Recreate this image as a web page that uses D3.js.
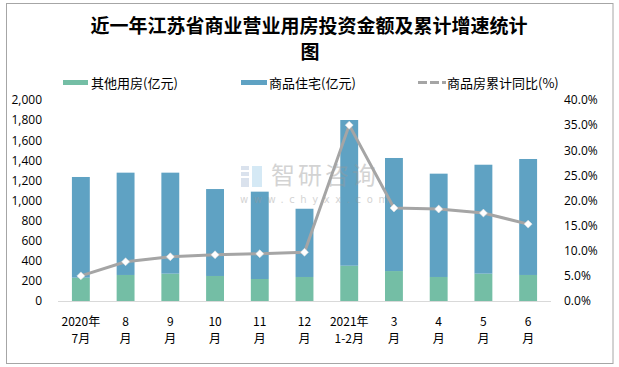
<!DOCTYPE html>
<html><head><meta charset="utf-8">
<script src="https://cdn.jsdelivr.net/npm/d3@7"></script>
<style>body{margin:0;background:#fff}svg{display:block}</style>
</head><body><svg id="c" width="619" height="367"></svg>
<script>
const categories = ["2020年|7月","8|月","9|月","10|月","11|月","12|月","2021年|1-2月","3|月","4|月","5|月","6|月"];
const otherUse = [232,259,272,249,219,239,351,298,239,272,259];
const residential = [1002,1018,1005,865,869,679,1450,1125,1028,1084,1154];
const growthPct = [5.0,7.8,8.8,9.2,9.4,9.7,35.0,18.5,18.3,17.5,15.3];
const leftTicks = [0,200,400,600,800,1000,1200,1400,1600,1800,2000];
const rightTicks = [0,5,10,15,20,25,30,35,40];

const svg = d3.select("#c");
const font = "'Noto Sans CJK SC','Microsoft YaHei',sans-serif";
const green = "#74bea5", blue = "#5fa2c3", gray = "#a5a5a5";

svg.append("rect").attr("x",6.5).attr("y",3.5).attr("width",606.5).attr("height",360).attr("fill","#fff").attr("stroke","#a6a6a6");

svg.append("text").attr("x",309).attr("y",33).attr("text-anchor","middle").attr("font-family",font).attr("font-weight","bold").attr("font-size",19).attr("fill","#000").text("近一年江苏省商业营业用房投资金额及累计增速统计");
svg.append("text").attr("x",310).attr("y",59).attr("text-anchor","middle").attr("font-family",font).attr("font-weight","bold").attr("font-size",19).attr("fill","#000").text("图");

const x = d3.scaleBand().domain(categories).range([58.5,550.5]).paddingInner(0.6).paddingOuter(0.3);
const yL = d3.scaleLinear().domain([0,2000]).range([301,100]);
const yR = d3.scaleLinear().domain([0,40]).range([301,100]);

// left axis
const la = svg.append("g").attr("transform","translate(46,0)").call(d3.axisLeft(yL).tickValues(leftTicks).tickSize(0).tickPadding(4).tickFormat(d3.format(",")));
la.select(".domain").remove();
la.selectAll("text").attr("font-family","'Open Sans','Liberation Sans',sans-serif").attr("font-size",12).attr("fill","#000");
// right axis
const ra = svg.append("g").attr("transform","translate(560,0)").call(d3.axisRight(yR).tickValues(rightTicks).tickSize(0).tickPadding(4).tickFormat(d=>d.toFixed(1)+"%"));
ra.select(".domain").remove();
ra.selectAll("text").attr("font-family","'Open Sans','Liberation Sans',sans-serif").attr("font-size",12).attr("fill","#000");

// bars
const g = svg.append("g");
g.selectAll(".o").data(categories).join("rect").attr("x",d=>x(d)).attr("width",x.bandwidth())
 .attr("y",(d,i)=>yL(otherUse[i])).attr("height",(d,i)=>yL(0)-yL(otherUse[i])).attr("fill",green);
g.selectAll(".r").data(categories).join("rect").attr("x",d=>x(d)).attr("width",x.bandwidth())
 .attr("y",(d,i)=>yL(otherUse[i]+residential[i])).attr("height",(d,i)=>yL(otherUse[i])-yL(otherUse[i]+residential[i])).attr("fill",blue);

// baseline
svg.append("line").attr("x1",58).attr("x2",551).attr("y1",301.5).attr("y2",301.5).attr("stroke","#d9d9d9");

// x labels
const xa = svg.append("g").attr("transform","translate(0,301)").call(d3.axisBottom(x).tickSize(0).tickFormat(""));
xa.select(".domain").remove();
xa.selectAll(".tick").each(function(d){
  const parts = d.split("|");
  const t = d3.select(this).append("text").attr("text-anchor","middle").attr("font-family",font).attr("font-size",12).attr("fill","#000");
  t.append("tspan").attr("x",0).attr("y",25).text(parts[0]);
  t.append("tspan").attr("x",0).attr("y",42).text(parts[1]);
});

// watermark
const wm = svg.append("g").attr("opacity",0.42);
wm.append("rect").attr("x",241).attr("y",166).attr("width",8).attr("height",4).attr("fill","#a9bcd6");
wm.append("rect").attr("x",241).attr("y",172).attr("width",8).attr("height",4).attr("fill","#a9bcd6");
wm.append("rect").attr("x",241).attr("y",178).attr("width",8).attr("height",9).attr("fill","#a9bcd6");
wm.append("rect").attr("x",252).attr("y",166).attr("width",10).attr("height",21).attr("fill","#9ccbe8");
wm.append("text").attr("x",271).attr("y",184).attr("font-family",font).attr("font-size",24).attr("letter-spacing",3).attr("fill","#999").text("智研咨询");
wm.append("text").attr("x",240).attr("y",203).attr("font-family","'DejaVu Sans',sans-serif").attr("font-size",10).attr("letter-spacing",5.6).attr("fill","#999").text("www.chyxx.com");

// line
const cx = d=>x(d)+x.bandwidth()/2;
const line = d3.line().x((d,i)=>cx(categories[i])).y(d=>yR(d));
svg.append("path").datum(growthPct).attr("d",line).attr("fill","none").attr("stroke",gray).attr("stroke-width",3).attr("stroke-linejoin","round");
svg.selectAll(".pt").data(growthPct).join("path").attr("transform",(d,i)=>`translate(${cx(categories[i])},${yR(d)})`)
 .attr("d",d3.symbol(d3.symbolDiamond2,40)).attr("fill","#fff").attr("stroke","#e0e0e0").attr("stroke-width",0.6);

// legend
const lg = svg.append("g").attr("font-family",font).attr("font-size",13).attr("fill","#000");
lg.append("rect").attr("x",63).attr("y",80).attr("width",25).attr("height",5).attr("fill",green);
lg.append("text").attr("x",91).attr("y",87.5).text("其他用房(亿元)");
lg.append("rect").attr("x",241).attr("y",80).attr("width",26).attr("height",5).attr("fill",blue);
lg.append("text").attr("x",269).attr("y",87.5).text("商品住宅(亿元)");
lg.append("line").attr("x1",418).attr("x2",446).attr("y1",82.5).attr("y2",82.5).attr("stroke",gray).attr("stroke-width",3).attr("stroke-dasharray","9,3");
lg.append("text").attr("x",447).attr("y",87.5).text("商品房累计同比(%)");
</script></body></html>
